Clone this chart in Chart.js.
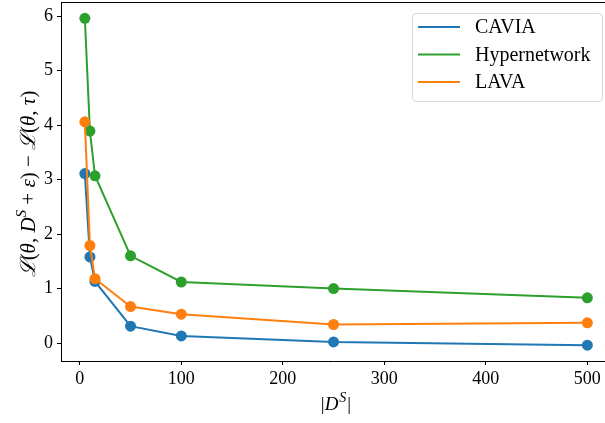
<!DOCTYPE html>
<html>
<head>
<meta charset="utf-8">
<script src="https://cdn.jsdelivr.net/npm/chart.js@4"></script>
<style>
  html, body { margin: 0; padding: 0; background: #fff; }
  #wrap { width: 605px; height: 423px; }
</style>
</head>
<body>
<div id="wrap"><canvas id="lossChart" width="605" height="423"></canvas></div>
<script>
const supportSizes = [5, 10, 15, 50, 100, 250, 500];
const caviaGap = [3.11, 1.58, 1.13, 0.31, 0.13, 0.02, -0.04];
const hyperGap = [5.96, 3.89, 3.07, 1.60, 1.12, 1.00, 0.83];
const lavaGap = [4.06, 1.79, 1.18, 0.67, 0.53, 0.34, 0.37];
const xTicks = [0, 100, 200, 300, 400, 500];
const yTicks = [0, 1, 2, 3, 4, 5, 6];

const serif = "'Liberation Serif', 'DejaVu Serif', serif";

function pairs(ys) {
    return supportSizes.map((x, i) => ({ x: x, y: ys[i] }));
}

function series(label, ys, color, order) {
    return {
        label: label,
        data: pairs(ys),
        borderColor: color,
        backgroundColor: color,
        borderWidth: 2,
        pointRadius: 5.5,
        pointHoverRadius: 5.5,
        pointBorderWidth: 0,
        tension: 0,
        order: order
    };
}

// no extra room for edge labels, the frame is fixed
function fixBox(s, size) {
    if (s.isHorizontal()) s.height = size; else s.width = size;
    s.paddingTop = 0;
    s.paddingBottom = 0;
    s.paddingLeft = 0;
    s.paddingRight = 0;
}

// draws the framed legend, the top spine and the axis titles
const extras = {
    id: 'extras',
    afterDraw(chart) {
        const c = chart.ctx;
        const a = chart.chartArea;
        c.save();
        c.strokeStyle = '#000';
        c.lineWidth = 1;
        c.beginPath();
        c.moveTo(a.left, a.top + 0.5);
        c.lineTo(a.right, a.top + 0.5);
        c.stroke();

        // legend box
        const bx = 412.5, by = 13.5, bw = 190, bh = 88;
        c.fillStyle = 'rgba(255,255,255,0.8)';
        c.strokeStyle = '#d6d6d6';
        c.beginPath();
        c.roundRect(bx, by, bw, bh, 4);
        c.fill();
        c.stroke();
        c.font = '20px ' + serif;
        c.textBaseline = 'middle';
        c.textAlign = 'left';
        [0, 1, 2].forEach(i => {
            const ds = chart.data.datasets[i];
            const y = 27 + i * 27.5;
            c.strokeStyle = ds.borderColor;
            c.lineWidth = 2;
            c.beginPath();
            c.moveTo(418, y);
            c.lineTo(460, y);
            c.stroke();
            c.fillStyle = '#000';
            c.fillText(ds.label, 475, y + 1);
        });

        // x title |D^S|
        c.fillStyle = '#000';
        c.textBaseline = 'alphabetic';
        const xt = 410;
        const p1 = '|', p2 = 'D', p3 = 'S', p4 = '|';
        c.font = 'italic 19px ' + serif;
        const wD = c.measureText(p2).width;
        c.font = 'italic 14px ' + serif;
        const wS = c.measureText(p3).width;
        c.font = '19px ' + serif;
        const wBar = c.measureText(p1).width;
        const total = wBar * 2 + wD + wS + 2;
        let x = 336 - total / 2;
        c.fillText(p1, x, xt); x += wBar;
        c.font = 'italic 19px ' + serif;
        c.fillText(p2, x, xt); x += wD + 1;
        c.font = 'italic 14px ' + serif;
        c.fillText(p3, x, xt - 8); x += wS + 1;
        c.font = '19px ' + serif;
        c.fillText(p4, x, xt);

        // y title
        c.translate(28, 184);
        c.rotate(-Math.PI / 2);
        const parts = [
            ['ℒ', 'italic 21px', 0], ['(', '21px', 0], ['θ', 'italic 21px', 0], [', ', '21px', 0],
            ['D', 'italic 21px', 0], ['S', 'italic 15px', -9], [' + ', '21px', 0], ['ε', 'italic 21px', 0],
            [') − ', '21px', 0], ['ℒ', 'italic 21px', 0], ['(', '21px', 0], ['θ', 'italic 21px', 0],
            [', ', '21px', 0], ['τ', 'italic 21px', 0], [')', '21px', 0]
        ];
        let w = 0;
        parts.forEach(p => { c.font = p[1] + ' ' + serif; w += c.measureText(p[0]).width; });
        let px = -w / 2;
        parts.forEach(p => {
            c.font = p[1] + ' ' + serif;
            c.fillText(p[0], px, 7 + p[2]);
            px += c.measureText(p[0]).width;
        });
        c.restore();
    }
};

const ctx = document.getElementById('lossChart').getContext('2d');

const chart = new Chart(ctx, {
    type: 'line',
    data: {
        datasets: [
            series('CAVIA', caviaGap, '#1f77b4', 3),
            series('Hypernetwork', hyperGap, '#2ca02c', 2),
            series('LAVA', lavaGap, '#ff7f0e', 1)
        ]
    },
    options: {
        responsive: false,
        animation: false,
        layout: { autoPadding: false, padding: { top: 2, right: 0, left: 0, bottom: 0 } },
        plugins: {
            legend: { display: false },
            tooltip: { enabled: false }
        },
        scales: {
            x: {
                type: 'linear',
                min: -18.5,
                max: 517.4,
                afterBuildTicks: s => { s.ticks = xTicks.map(v => ({ value: v })); },
                afterFit: s => fixBox(s, 62),
                grid: { drawOnChartArea: false, drawTicks: true, tickLength: 4, color: '#000' },
                border: { display: true, color: '#000', width: 1 },
                ticks: { color: '#000', padding: 3, font: { family: serif, size: 18 }, maxRotation: 0 }
            },
            y: {
                min: -0.33,
                max: 6.26,
                afterBuildTicks: s => { s.ticks = yTicks.map(v => ({ value: v })); },
                afterFit: s => fixBox(s, 61),
                grid: { drawOnChartArea: false, drawTicks: true, tickLength: 4, color: '#000' },
                border: { display: true, color: '#000', width: 1 },
                ticks: { color: '#000', padding: 4, font: { family: serif, size: 18 } }
            }
        }
    },
    plugins: [extras]
});
</script>
</body>
</html>
